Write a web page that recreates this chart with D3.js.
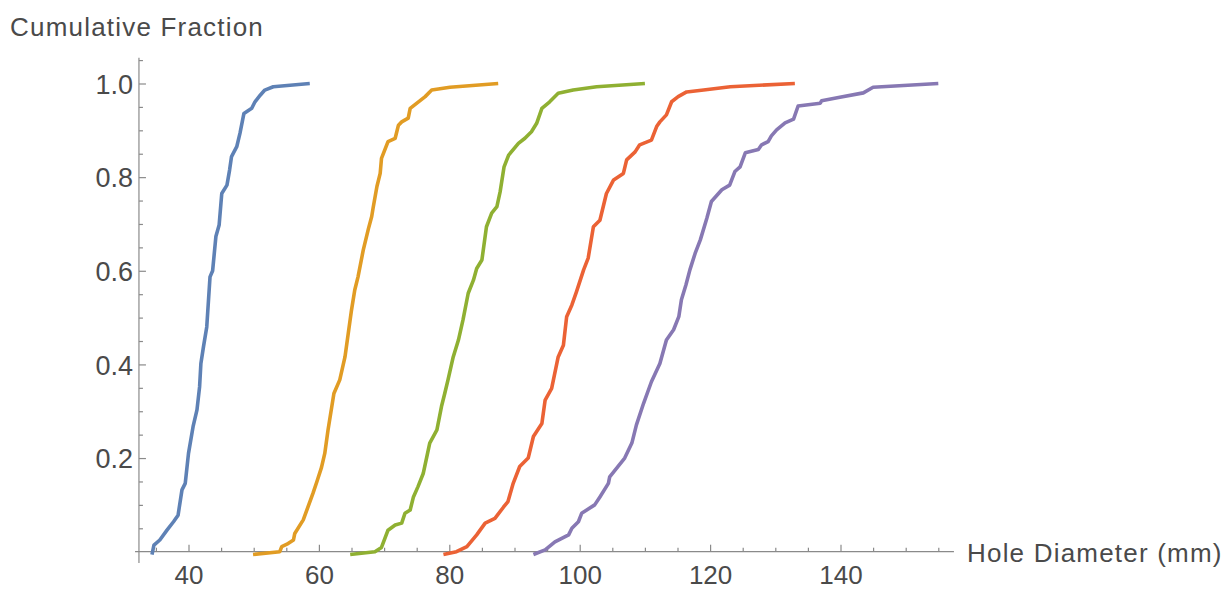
<!DOCTYPE html>
<html>
<head>
<meta charset="utf-8">
<script src="https://cdn.jsdelivr.net/npm/d3@7"></script>
<style>
  body { margin: 0; background: #fff; }
  text { font-family: "Liberation Sans", Arial, sans-serif; fill: #4a4a4a; }
</style>
</head>
<body>
<div id="chart-area"></div>
<script>
// cumulative fraction curves as [diameter, fraction]
var curve1 = [[34.4,-0.006],[34.7,0.014],[35.6,0.025],[36.7,0.046],[37.7,0.064],[38.4,0.078],[39.0,0.132],
  [39.5,0.146],[40.0,0.21],[40.7,0.267],[41.3,0.303],[41.7,0.352],[41.9,0.402],[42.3,0.438],[42.8,0.48],
  [43.3,0.587],[43.7,0.60],[44.2,0.673],[44.7,0.698],[45.1,0.765],[45.9,0.783],[46.3,0.815],[46.6,0.844],
  [47.4,0.865],[47.9,0.894],[48.5,0.936],[49.7,0.947],[50.2,0.961],[51.0,0.975],[51.7,0.986],[53.0,0.993],[58.6,1.0]]

var curve2 = [[49.9,-0.006],[54.0,0.0],[54.3,0.011],[55.1,0.016],[56.1,0.025],[56.3,0.039],[57.6,0.068],
  [59.1,0.125],[59.7,0.15],[60.4,0.18],[60.9,0.21],[61.4,0.26],[62.3,0.338],[63.2,0.367],[64.0,0.416],
  [64.5,0.466],[65.0,0.516],[65.5,0.559],[66.0,0.587],[66.8,0.644],[67.6,0.69],[68.1,0.716],[68.3,0.733],
  [68.9,0.78],[69.4,0.808],[69.6,0.84],[70.6,0.876],[71.7,0.883],[72.2,0.911],[72.7,0.918],[73.7,0.926],
  [74.0,0.947],[76.3,0.972],[77.3,0.986],[80.1,0.992],[87.5,1.0]]

var curve3 = [[64.8,-0.006],[68.6,0.0],[69.6,0.009],[70.6,0.046],[71.7,0.057],[72.7,0.061],[73.2,0.082],
  [74.0,0.089],[74.5,0.117],[75.2,0.139],[76.0,0.167],[77.0,0.232],[78.1,0.26],[78.8,0.31],[79.3,0.338],
  [79.8,0.367],[80.6,0.416],[81.4,0.452],[82.1,0.495],[82.9,0.552],[83.7,0.58],[84.2,0.605],[85.0,0.623],
  [85.7,0.694],[86.5,0.723],[87.3,0.737],[87.8,0.769],[88.4,0.822],[89.1,0.847],[90.6,0.872],[91.6,0.883],
  [92.6,0.897],[93.4,0.915],[94.2,0.947],[95.4,0.961],[96.7,0.979],[99.0,0.986],[102.6,0.993],[110.0,1.0]]

var curve4 = [[79.1,-0.006],[81.1,0.0],[82.7,0.011],[84.2,0.036],[85.5,0.061],[87.0,0.071],[88.3,0.095],
  [89.0,0.107],[89.8,0.146],[90.8,0.182],[92.1,0.2],[92.9,0.246],[94.2,0.274],[94.7,0.324],[95.7,0.349],
  [96.7,0.416],[97.5,0.441],[98.0,0.502],[98.8,0.527],[99.5,0.555],[100.6,0.602],[101.3,0.627],[102.1,0.694],
  [103.1,0.708],[104.1,0.765],[105.2,0.794],[106.7,0.808],[107.2,0.837],[108.5,0.854],[109.2,0.869],
  [111.0,0.879],[111.8,0.908],[112.3,0.918],[113.3,0.933],[114.1,0.961],[115.1,0.972],[116.4,0.982],
  [119.0,0.986],[123.1,0.993],[133.0,1.0]]

var curve5 = [[92.9,-0.006],[94.7,0.004],[96.2,0.021],[98.3,0.036],[98.8,0.05],[99.8,0.064],[100.3,0.082],
  [102.3,0.1],[103.1,0.117],[104.4,0.146],[104.6,0.16],[106.9,0.2],[108.0,0.232],[108.7,0.271],[109.8,0.317],
  [111.0,0.363],[112.3,0.402],[113.3,0.452],[114.4,0.474],[115.2,0.502],[115.6,0.538],[116.3,0.57],
  [116.9,0.602],[117.7,0.637],[118.5,0.666],[119.5,0.712],[120.2,0.748],[121.8,0.773],[123.0,0.783],
  [123.8,0.812],[124.6,0.822],[125.4,0.852],[127.4,0.859],[127.9,0.869],[128.9,0.876],[129.4,0.888],
  [130.2,0.901],[131.5,0.916],[132.8,0.924],[133.5,0.952],[136.9,0.958],[137.1,0.963],[139.7,0.97],
  [143.5,0.98],[145.0,0.992],[155.0,1.0]]

var xTicks = [40, 60, 80, 100, 120, 140]
var xMinor = [35, 45, 50, 55, 65, 70, 75, 85, 90, 95, 105, 110, 115, 125, 130, 135, 145, 150, 155]
var yTicks = [0.2, 0.4, 0.6, 0.8, 1.0]
var yMinor = [0.05, 0.1, 0.15, 0.25, 0.3, 0.35, 0.45, 0.5, 0.55, 0.65, 0.7, 0.75, 0.85, 0.9, 0.95, 1.05]

var colors = ["#5e81b5", "#e19c24", "#8fb032", "#eb6235", "#8778b3"]
var data = [curve1, curve2, curve3, curve4, curve5]

var width = 1232, height = 590

var svg = d3.select("#chart-area")
    .append("svg")
        .attr("width", width)
        .attr("height", height)

// scales
var x = d3.scaleLinear()
    .domain([40, 140])
    .range([188.5, 840.5])

var y = d3.scaleLinear()
    .domain([0, 1])
    .range([551.7, 83.5])

var axisColor = "#8a8a8a"

// axis lines (mathematica style, crossing a bit past each other)
svg.append("line")
    .attr("x1", x(31.8)).attr("x2", x(157.4))
    .attr("y1", y(0)).attr("y2", y(0))
    .attr("stroke", axisColor).attr("stroke-width", 1.2)

svg.append("line")
    .attr("x1", x(32.4)).attr("x2", x(32.4))
    .attr("y1", y(-0.024)).attr("y2", y(1.055))
    .attr("stroke", axisColor).attr("stroke-width", 1.2)

// X axis
var xG = svg.append("g")
    .attr("transform", "translate(0," + y(0) + ")")
    .call(d3.axisBottom(x).tickValues(xTicks).tickSizeInner(-7).tickSizeOuter(0).tickPadding(14))
xG.select(".domain").remove()

var xMinorG = svg.append("g")
    .attr("transform", "translate(0," + y(0) + ")")
    .call(d3.axisBottom(x).tickValues(xMinor).tickSizeInner(-4).tickSizeOuter(0).tickFormat(""))
xMinorG.select(".domain").remove()

// Y axis
var yG = svg.append("g")
    .attr("transform", "translate(" + x(32.4) + ",0)")
    .call(d3.axisLeft(y).tickValues(yTicks).tickSizeInner(-7).tickSizeOuter(0).tickPadding(6)
        .tickFormat(d3.format(".1f")))
yG.select(".domain").remove()

var yMinorG = svg.append("g")
    .attr("transform", "translate(" + x(32.4) + ",0)")
    .call(d3.axisLeft(y).tickValues(yMinor).tickSizeInner(-4).tickSizeOuter(0).tickFormat(""))
yMinorG.select(".domain").remove()

svg.selectAll(".tick line").attr("stroke", axisColor).attr("stroke-width", 1.2)
svg.selectAll(".tick text")
    .attr("font-family", "Liberation Sans, Arial, sans-serif")
    .attr("fill", "#4a4a4a")
xG.selectAll(".tick text").attr("font-size", "26px")
yG.selectAll(".tick text").attr("font-size", "27px").attr("dy", "0.36em")

// labels
svg.append("text")
    .attr("x", 10)
    .attr("y", 35.5)
    .attr("font-size", "26px")
    .attr("letter-spacing", "1.2px")
    .text("Cumulative Fraction")

svg.append("text")
    .attr("x", 967)
    .attr("y", 561.5)
    .attr("font-size", "26px")
    .attr("letter-spacing", "1.2px")
    .text("Hole Diameter (mm)")

// curves
var line = d3.line()
    .x(function(d){ return x(d[0]) })
    .y(function(d){ return y(d[1]) })

svg.selectAll("path.curve")
    .data(data)
    .enter()
    .append("path")
        .attr("class", "curve")
        .attr("d", line)
        .attr("fill", "none")
        .attr("stroke", function(d, i){ return colors[i] })
        .attr("stroke-width", 3.6)
        .attr("stroke-linejoin", "round")
</script>
</body>
</html>
